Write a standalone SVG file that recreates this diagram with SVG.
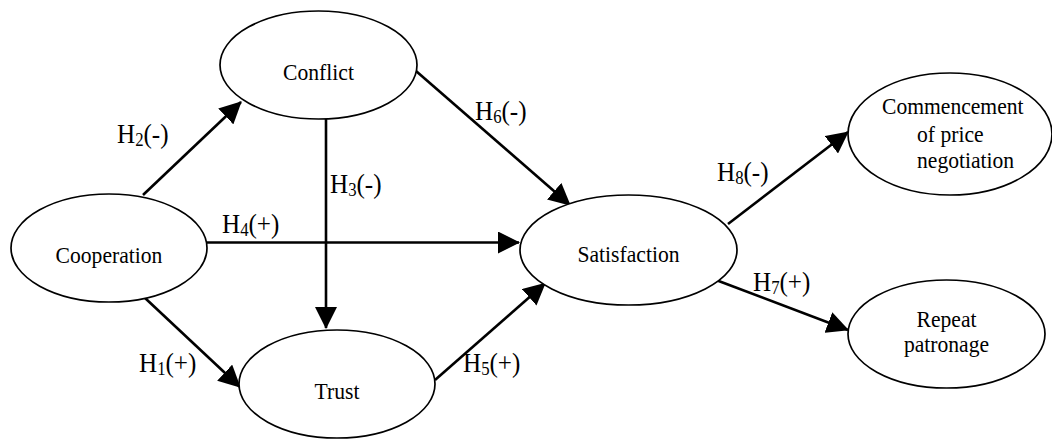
<svg xmlns="http://www.w3.org/2000/svg" width="1052" height="439" viewBox="0 0 1052 439">
<style>
.node ellipse{fill:#fff;stroke:#000;stroke-width:1.7}
.node text{font-family:"Liberation Serif","Times New Roman",serif;font-size:24px;fill:#000}
.edges line{stroke:#000;stroke-width:2.6}
.lbl{font-family:"Liberation Serif","Times New Roman",serif;font-size:27px;fill:#000}
.sub{font-size:18px}
</style>
<defs>
<marker id="arr" markerUnits="userSpaceOnUse" markerWidth="22" markerHeight="22" refX="21" refY="11" orient="auto">
<path d="M0,0 L22,11 L0,22 z" fill="#000"/>
</marker>
</defs>
<rect width="1052" height="439" fill="#fff"/>
<g class="edges">
<line x1="143" y1="195" x2="241" y2="102" marker-end="url(#arr)"/>
<line x1="326" y1="119" x2="326" y2="328" marker-end="url(#arr)"/>
<line x1="207" y1="242.5" x2="519" y2="242.5" marker-end="url(#arr)"/>
<line x1="416" y1="71" x2="570" y2="205" marker-end="url(#arr)"/>
<line x1="145" y1="298" x2="240" y2="387" marker-end="url(#arr)"/>
<line x1="435" y1="380" x2="545" y2="283.5" marker-end="url(#arr)"/>
<line x1="728" y1="224" x2="848" y2="132" marker-end="url(#arr)"/>
<line x1="716" y1="280" x2="848" y2="330" marker-end="url(#arr)"/>
</g>
<g id="labels">
<text class="lbl" transform="translate(117,143) scale(0.93,1)">H<tspan class="sub" dy="3">2</tspan><tspan dy="-3">(-)</tspan></text>
<text class="lbl" transform="translate(330,193) scale(0.93,1)">H<tspan class="sub" dy="3">3</tspan><tspan dy="-3">(-)</tspan></text>
<text class="lbl" transform="translate(222,232.5) scale(0.93,1)">H<tspan class="sub" dy="3">4</tspan><tspan dy="-3">(+)</tspan></text>
<text class="lbl" transform="translate(475,120) scale(0.93,1)">H<tspan class="sub" dy="3">6</tspan><tspan dy="-3">(-)</tspan></text>
<text class="lbl" transform="translate(139,372) scale(0.93,1)">H<tspan class="sub" dy="3">1</tspan><tspan dy="-3">(+)</tspan></text>
<text class="lbl" transform="translate(463,372) scale(0.93,1)">H<tspan class="sub" dy="3">5</tspan><tspan dy="-3">(+)</tspan></text>
<text class="lbl" transform="translate(717,181) scale(0.93,1)">H<tspan class="sub" dy="3">8</tspan><tspan dy="-3">(-)</tspan></text>
<text class="lbl" transform="translate(753,291) scale(0.93,1)">H<tspan class="sub" dy="3">7</tspan><tspan dy="-3">(+)</tspan></text>
</g>
<g id="conflict" class="node">
<ellipse cx="318.5" cy="65" rx="98.5" ry="54"/>
<text transform="translate(318.5,79.5) scale(0.9,1)" text-anchor="middle">Conflict</text>
</g>
<g id="cooperation" class="node">
<ellipse cx="109" cy="248" rx="98" ry="54"/>
<text transform="translate(109,263) scale(0.9,1)" text-anchor="middle">Cooperation</text>
</g>
<g id="trust" class="node">
<ellipse cx="337" cy="384" rx="98" ry="54"/>
<text transform="translate(337,399) scale(0.9,1)" text-anchor="middle">Trust</text>
</g>
<g id="satisfaction" class="node">
<ellipse cx="628.5" cy="250" rx="108.5" ry="55"/>
<text transform="translate(628.5,262) scale(0.9,1)" text-anchor="middle">Satisfaction</text>
</g>
<g id="commencement" class="node">
<ellipse cx="950" cy="134" rx="102" ry="61"/>
<text transform="translate(882,114) scale(0.9,1)">Commencement</text>
<text transform="translate(917,142) scale(0.9,1)">of price</text>
<text transform="translate(917,168) scale(0.9,1)">negotiation</text>
</g>
<g id="repeat" class="node">
<ellipse cx="946.5" cy="334" rx="98.5" ry="54"/>
<text transform="translate(946.5,327) scale(0.9,1)" text-anchor="middle">Repeat</text>
<text transform="translate(946.5,352) scale(0.9,1)" text-anchor="middle">patronage</text>
</g>
</svg>
